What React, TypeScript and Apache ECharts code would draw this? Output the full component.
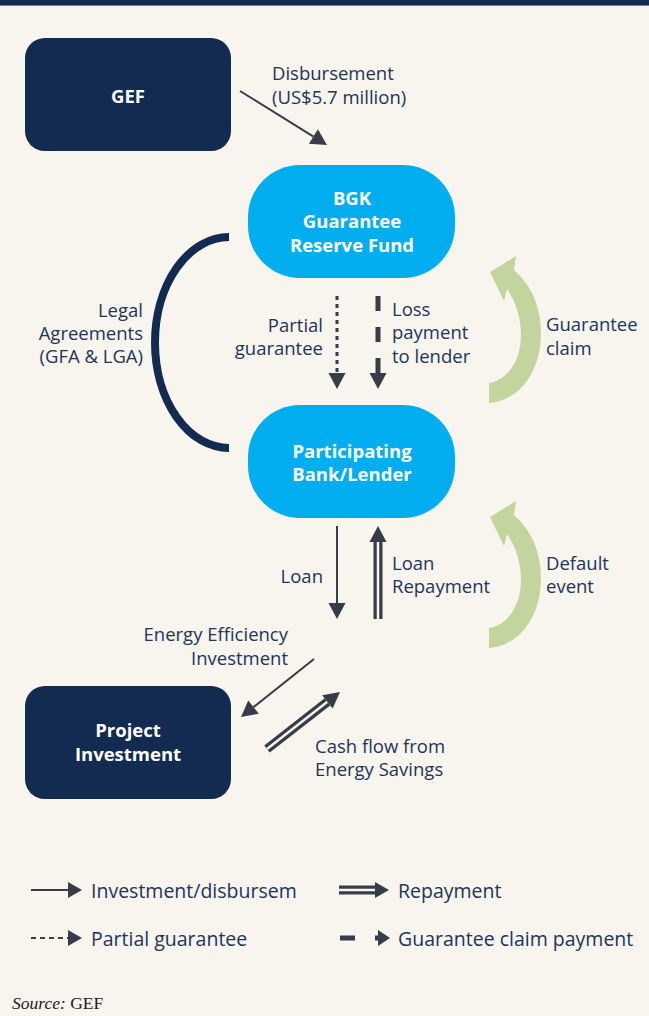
import React, { useEffect, useRef } from "react";
import * as echarts from "echarts";

// ---------- content ----------
const nodeTitles: string[][] = [
  ["GEF"],
  ["BGK", "Guarantee", "Reserve Fund"],
  ["Participating", "Bank/Lender"],
  ["Project", "Investment"],
];
const disbursementLabel = ["Disbursement", "(US$5.7 million)"];
const partialLabel = ["Partial", "guarantee"];
const lossLabel = ["Loss", "payment", "to lender"];
const legalLabel = ["Legal", "Agreements", "(GFA & LGA)"];
const claimLabel = ["Guarantee", "claim"];
const loanLabel = ["Loan"];
const repayLabel = ["Loan", "Repayment"];
const defaultLabel = ["Default", "event"];
const eeLabel = ["Energy Efficiency", "Investment"];
const cashLabel = ["Cash flow from", "Energy Savings"];
const legendLabels = ["Investment/disbursem", "Repayment", "Partial guarantee", "Guarantee claim payment"];
const sourceLabel = ["Source:", "GEF"];

// ---------- styles ----------
const NAVY = "#132b51";
const BLUE = "#00aeef";
const ARROW = "#363d47";
const LABEL = "#1e3558";
const GREEN = "#c4d49e";
const BG = "#f8f4ee";
const FONT = "'Open Sans', 'Noto Sans', sans-serif";
const LABEL_SIZE = 18.5;
const LEGEND_SIZE = 19.5;

echarts.graphic.registerShape(
  "legalArc",
  echarts.graphic.extendPath("M 229 237 A 74 105.5 0 0 0 229 448", {})
);
echarts.graphic.registerShape(
  "curvedArrow",
  echarts.graphic.extendPath(
    "M489 403 C519 401 541 372 541 333 C541 306 531 285 514 270 L516 256 L490 272 L504 301 L507 289 C516 302 521 318 521 335 C521 360 508 380 489 383 Z",
    {}
  )
);

function textLines(lines: string[], x: number, y0: number, step: number, align: string, opts: any = {}) {
  const fontSize = opts.size || LABEL_SIZE;
  const weight = opts.bold ? "bold " : "";
  return lines.map((t, i) => ({
    type: "text",
    x,
    y: y0 + i * step,
    silent: true,
    style: {
      text: t,
      fill: opts.fill || LABEL,
      font: `${weight}${fontSize}px ${FONT}`,
      align,
      verticalAlign: "middle",
      textAlign: align,
      textVerticalAlign: "middle",
    },
  }));
}

function head(x1: number, y1: number, x2: number, y2: number, len: number, half: number) {
  const dx = x2 - x1, dy = y2 - y1;
  const L = Math.hypot(dx, dy);
  const ux = dx / L, uy = dy / L;
  const bx = x2 - ux * len, by = y2 - uy * len;
  const nx = -uy, ny = ux;
  return {
    base: [bx, by],
    el: {
      type: "polygon",
      silent: true,
      shape: { points: [[x2, y2], [bx + nx * half, by + ny * half], [bx - nx * half, by - ny * half]] },
      style: { fill: ARROW },
    },
  };
}

function arrow(x1: number, y1: number, x2: number, y2: number, o: any = {}) {
  const len = o.len || 16, half = o.half || 8.5;
  const h = head(x1, y1, x2, y2, len, half);
  const els: any[] = [];
  if (o.double) {
    els.push({
      type: "line", silent: true,
      shape: { x1, y1, x2: h.base[0], y2: h.base[1] },
      style: { stroke: ARROW, lineWidth: o.width || 9, lineCap: "butt" },
    });
    els.push({
      type: "line", silent: true,
      shape: { x1, y1, x2: h.base[0], y2: h.base[1] },
      style: { stroke: BG, lineWidth: o.gap || 2.5, lineCap: "butt" },
    });
  } else {
    els.push({
      type: "line", silent: true,
      shape: { x1, y1, x2: h.base[0] + (x2 - x1) * 0.001, y2: h.base[1] + (y2 - y1) * 0.001 },
      style: { stroke: ARROW, lineWidth: o.width || 2, lineDash: o.dash || null, lineCap: "butt" },
    });
  }
  els.push(h.el);
  return els;
}

function buildOption() {
  const g: any[] = [];
  // top band
  g.push({ type: "rect", silent: true, shape: { x: 0, y: 0, width: 649, height: 5 }, style: { fill: NAVY } });
  g.push({ type: "rect", silent: true, shape: { x: 0, y: 5, width: 649, height: 1 }, style: { fill: "#6f7f97" } });

  // nodes
  g.push({ type: "rect", silent: true, shape: { x: 25, y: 38, width: 206, height: 113, r: 20 }, style: { fill: NAVY } });
  g.push({ type: "rect", silent: true, shape: { x: 248, y: 165, width: 207, height: 113, r: 52 }, style: { fill: BLUE } });
  g.push({ type: "rect", silent: true, shape: { x: 248, y: 405, width: 207, height: 113, r: 52 }, style: { fill: BLUE } });
  g.push({ type: "rect", silent: true, shape: { x: 25, y: 686, width: 206, height: 113, r: 20 }, style: { fill: NAVY } });

  g.push(...textLines(nodeTitles[0], 128, 95, 24, "center", { bold: true, fill: "#ffffff" }));
  g.push(...textLines(nodeTitles[1], 352, 197, 23.5, "center", { bold: true, fill: "#ffffff" }));
  g.push(...textLines(nodeTitles[2], 352, 450, 23.5, "center", { bold: true, fill: "#ffffff" }));
  g.push(...textLines(nodeTitles[3], 128, 729, 24, "center", { bold: true, fill: "#ffffff" }));

  // legal agreements arc
  g.push({ type: "legalArc", silent: true, x: 0, y: 0, style: { fill: "none", stroke: NAVY, lineWidth: 8 } });

  // green curved arrows
  g.push({ type: "curvedArrow", silent: true, x: 0, y: 0, style: { fill: GREEN } });
  g.push({ type: "curvedArrow", silent: true, x: 0, y: 245, style: { fill: GREEN } });

  // flow arrows
  g.push(...arrow(240, 91, 327, 145, { width: 2 }));
  g.push(...arrow(337, 296, 337, 389, { width: 3, dash: [4, 4] }));
  g.push(...arrow(378, 296, 378, 389, { width: 5, dash: [15, 16] }));
  g.push(...arrow(337, 526, 337, 619, { width: 2 }));
  g.push(...arrow(378, 619, 378, 526, { double: true }));
  g.push(...arrow(314, 659, 241, 717, { width: 2 }));
  g.push(...arrow(267, 749, 340, 692, { double: true }));

  // flow labels
  g.push(...textLines(disbursementLabel, 272, 72, 24, "left"));
  g.push(...textLines(partialLabel, 323, 324, 23.5, "right"));
  g.push(...textLines(lossLabel, 392, 308, 23.5, "left"));
  g.push(...textLines(legalLabel, 143, 309, 23, "right"));
  g.push(...textLines(claimLabel, 546, 323, 24, "left"));
  g.push(...textLines(loanLabel, 323, 575, 24, "right"));
  g.push(...textLines(repayLabel, 392, 562, 23.5, "left"));
  g.push(...textLines(defaultLabel, 546, 562, 23.5, "left"));
  g.push(...textLines(eeLabel, 288, 633, 24, "right"));
  g.push(...textLines(cashLabel, 315, 745, 23.5, "left"));

  // legend
  const r1 = 890, r2 = 938;
  const ls = { size: LEGEND_SIZE };
  g.push(...arrow(31, r1, 82, r1, { width: 2, len: 14, half: 8 }));
  g.push(...textLines([legendLabels[0]], 91, r1, 0, "left", ls));
  g.push(...arrow(339, r1, 389, r1, { double: true, width: 9, gap: 2.5, len: 14, half: 8 }));
  g.push(...textLines([legendLabels[1]], 398, r1, 0, "left", ls));
  g.push(...arrow(31, r2, 82, r2, { width: 2, len: 14, half: 8, dash: [5, 4] }));
  g.push(...textLines([legendLabels[2]], 91, r2, 0, "left", ls));
  g.push({ type: "rect", silent: true, shape: { x: 340, y: r2 - 2.5, width: 15, height: 5 }, style: { fill: ARROW } });
  g.push(...arrow(375, r2, 390, r2, { width: 5, len: 12, half: 8 }));
  g.push(...textLines([legendLabels[3]], 398, r2, 0, "left", ls));

  // source
  g.push({
    type: "text",
    x: 12,
    y: 1003,
    silent: true,
    style: {
      text: `{i|${sourceLabel[0]}} ${sourceLabel[1]}`,
      font: "17.5px 'Liberation Serif', serif",
      fill: "#222222",
      align: "left",
      verticalAlign: "middle",
      textAlign: "left",
      textVerticalAlign: "middle",
      rich: {
        i: { fontStyle: "italic", fontFamily: "'Liberation Serif', serif", fontSize: 17.5, fill: "#222222" },
      },
    },
  });

  return {
    animation: false,
    backgroundColor: BG,
    graphic: { elements: g },
  };
}

export default function App() {
  const ref = useRef<HTMLDivElement>(null);
  useEffect(() => {
    document.body.style.margin = "0";
    if (!ref.current) return;
    const chart = echarts.init(ref.current, undefined, { renderer: "svg" });
    chart.setOption(buildOption() as any);
    return () => chart.dispose();
  }, []);
  return <div ref={ref} style={{ width: 649, height: 1016 }} />;
}
